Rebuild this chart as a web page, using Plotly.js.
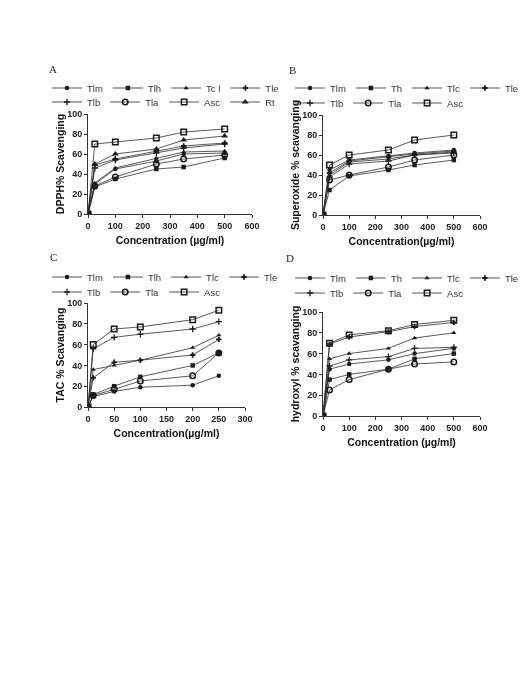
<!DOCTYPE html>
<html>
<head>
<meta charset="utf-8">
<script src="https://cdn.plot.ly/plotly-3.0.1.min.js"></script>
<style>
  html, body { margin: 0; padding: 0; background: #ffffff; }
  #chart { width: 529px; height: 685px; will-change: transform; }
</style>
</head>
<body>
<div id="chart"></div>
<script>
// ---- Panel A: DPPH radical scavenging ----
const concA = [0, 25, 100, 250, 350, 500];
const dpphTlm = [0, 30, 45, 53, 60, 61];
const dpphTlh = [0, 27, 35, 45, 47, 56];
const dpphTcl = [0, 31, 46, 56, 62, 63];
const dpphTle = [0, 49, 55, 63, 68, 71];
const dpphTlb = [0, 46, 54, 61, 66, 70];
const dpphTla = [0, 28, 37, 50, 55, 59];
const dpphAsc = [0, 70, 72, 76, 82, 85];
const dpphRt  = [0, 50, 60, 65, 74, 78];

// ---- Panel B: superoxide scavenging ----
const concB = [0, 25, 100, 250, 350, 500];
const supTlm = [0, 45, 55, 59, 62, 65];
const supTh  = [0, 25, 39, 45, 50, 55];
const supTlc = [0, 40, 53, 56, 60, 63];
const supTle = [0, 42, 54, 58, 61, 64];
const supTlb = [0, 38, 51, 54, 60, 62];
const supTla = [0, 35, 40, 48, 55, 60];
const supAsc = [0, 50, 60, 65, 75, 80];

// ---- Panel C: total antioxidant capacity ----
const concC = [0, 10, 50, 100, 200, 250];
const tacTlm = [0, 10, 15, 19, 21, 30];
const tacTlh = [0, 12, 20, 29, 40, 52];
const tacTlc = [0, 36, 40, 45, 57, 69];
const tacTle = [0, 28, 43, 45, 50, 65];
const tacTlb = [0, 56, 67, 70, 75, 82];
const tacTla = [0, 11, 17, 25, 30, 52];
const tacAsc = [0, 60, 75, 77, 84, 93];

// ---- Panel D: hydroxyl radical scavenging ----
const concD = [0, 25, 100, 250, 350, 500];
const hydTlm = [0, 45, 50, 54, 60, 65];
const hydTh  = [0, 35, 40, 45, 55, 60];
const hydTlc = [0, 55, 60, 65, 75, 80];
const hydTle = [0, 69, 76, 81, 86, 90];
const hydTlb = [0, 48, 54, 57, 65, 66];
const hydTla = [0, 25, 35, 45, 50, 52];
const hydAsc = [0, 70, 78, 82, 88, 92];

// marker look for each extract
const INK = '#1b1b1b';
const markerStyle = {
  Tlm: { symbol: 'circle', size: 4.5 },
  Tlh: { symbol: 'square', size: 4.5 },
  Th:  { symbol: 'square', size: 4.5 },
  Tcl: { symbol: 'triangle-up', size: 4.5 },
  Tlc: { symbol: 'triangle-up', size: 4.5 },
  Tle: { symbol: 'cross', size: 4.5 },
  Tlb: { symbol: 'cross-thin-open', size: 4.5, line: { width: 1.3, color: INK } },
  Tla: { symbol: 'circle-open', size: 5.5, line: { width: 1.5, color: INK } },
  Asc: { symbol: 'square-open', size: 5.5, line: { width: 1.5, color: INK } },
  Rt:  { symbol: 'triangle-up', size: 6 }
};

function series(x, y, key, label, xa, ya, legendId) {
  const m = Object.assign({ color: INK }, markerStyle[key]);
  return {
    type: 'scatter', mode: 'lines+markers',
    x: x, y: y, name: label,
    xaxis: xa, yaxis: ya, legend: legendId,
    line: { color: '#2e2e2e', width: 0.8 },
    marker: m, cliponaxis: true
  };
}

const traces = [
  // A
  series(concA, dpphTlm, 'Tlm', 'Tlm', 'x', 'y', 'legend'),
  series(concA, dpphTlh, 'Tlh', 'Tlh', 'x', 'y', 'legend'),
  series(concA, dpphTcl, 'Tcl', 'Tc l', 'x', 'y', 'legend'),
  series(concA, dpphTle, 'Tle', 'Tle', 'x', 'y', 'legend'),
  series(concA, dpphTlb, 'Tlb', 'Tlb', 'x', 'y', 'legend2'),
  series(concA, dpphTla, 'Tla', 'Tla', 'x', 'y', 'legend2'),
  series(concA, dpphAsc, 'Asc', 'Asc', 'x', 'y', 'legend2'),
  series(concA, dpphRt,  'Rt',  'Rt',  'x', 'y', 'legend2'),
  // B
  series(concB, supTlm, 'Tlm', 'Tlm', 'x2', 'y2', 'legend3'),
  series(concB, supTh,  'Th',  'Th',  'x2', 'y2', 'legend3'),
  series(concB, supTlc, 'Tlc', 'Tlc', 'x2', 'y2', 'legend3'),
  series(concB, supTle, 'Tle', 'Tle', 'x2', 'y2', 'legend3'),
  series(concB, supTlb, 'Tlb', 'Tlb', 'x2', 'y2', 'legend4'),
  series(concB, supTla, 'Tla', 'Tla', 'x2', 'y2', 'legend4'),
  series(concB, supAsc, 'Asc', 'Asc', 'x2', 'y2', 'legend4'),
  // C
  series(concC, tacTlm, 'Tlm', 'Tlm', 'x3', 'y3', 'legend5'),
  series(concC, tacTlh, 'Tlh', 'Tlh', 'x3', 'y3', 'legend5'),
  series(concC, tacTlc, 'Tlc', 'Tlc', 'x3', 'y3', 'legend5'),
  series(concC, tacTle, 'Tle', 'Tle', 'x3', 'y3', 'legend5'),
  series(concC, tacTlb, 'Tlb', 'Tlb', 'x3', 'y3', 'legend6'),
  series(concC, tacTla, 'Tla', 'Tla', 'x3', 'y3', 'legend6'),
  series(concC, tacAsc, 'Asc', 'Asc', 'x3', 'y3', 'legend6'),
  // D
  series(concD, hydTlm, 'Tlm', 'Tlm', 'x4', 'y4', 'legend7'),
  series(concD, hydTh,  'Th',  'Th',  'x4', 'y4', 'legend7'),
  series(concD, hydTlc, 'Tlc', 'Tlc', 'x4', 'y4', 'legend7'),
  series(concD, hydTle, 'Tle', 'Tle', 'x4', 'y4', 'legend7'),
  series(concD, hydTlb, 'Tlb', 'Tlb', 'x4', 'y4', 'legend8'),
  series(concD, hydTla, 'Tla', 'Tla', 'x4', 'y4', 'legend8'),
  series(concD, hydAsc, 'Asc', 'Asc', 'x4', 'y4', 'legend8')
];

const W = 529, H = 685;
const px = v => v / W;
const py = v => 1 - v / H;

const tickFont = { family: 'Arial, Liberation Sans, sans-serif', size: 9, color: '#222', weight: 'bold' };
const titleFont = { family: 'Arial, Liberation Sans, sans-serif', size: 10.5, color: '#111', weight: 'bold' };

function xAxis(left, right, maxV, step, title, anchor) {
  return {
    domain: [px(left), px(right)], anchor: anchor,
    range: [0, maxV], dtick: step, tick0: 0,
    showline: true, linecolor: '#333', linewidth: 1,
    ticks: 'outside', ticklen: 3, tickwidth: 1, tickcolor: '#333',
    showgrid: false, zeroline: false, tickfont: tickFont,
    title: { text: title, font: titleFont, standoff: 6 },
    fixedrange: true
  };
}
function yAxis(top, bottom, title, anchor) {
  return {
    domain: [py(bottom), py(top)], anchor: anchor,
    range: [0, 100], dtick: 20, tick0: 0,
    showline: true, linecolor: '#333', linewidth: 1,
    ticks: 'outside', ticklen: 3, tickwidth: 1, tickcolor: '#333',
    showgrid: false, zeroline: false, tickfont: tickFont,
    title: { text: title, font: titleFont, standoff: 0 },
    fixedrange: true
  };
}

const legendFont = { family: 'Arial, Liberation Sans, sans-serif', size: 9.5, color: '#333' };
function rowLegend(left, centreY) {
  return {
    orientation: 'h', x: px(left), xanchor: 'left',
    y: py(centreY), yanchor: 'middle',
    font: legendFont, bgcolor: 'rgba(0,0,0,0)',
    tracegroupgap: 0, itemwidth: 30, entrywidth: 0
  };
}

const serif = { family: 'Liberation Serif, Times New Roman, serif', size: 11, color: '#222' };
function panelLetter(text, x, y) {
  return { text: text, xref: 'paper', yref: 'paper', x: px(x), y: py(y),
           xanchor: 'center', yanchor: 'middle', showarrow: false, font: serif };
}

const layout = {
  width: W, height: H,
  margin: { l: 0, r: 0, t: 0, b: 0 },
  paper_bgcolor: '#ffffff', plot_bgcolor: '#ffffff',
  xaxis:  xAxis(88, 252, 600, 100, 'Concentration (\u00b5g/ml)', 'y'),
  yaxis:  yAxis(114, 214, 'DPPH% Scavenging', 'x'),
  xaxis2: xAxis(323, 480, 600, 100, 'Concentration(\u00b5g/ml)', 'y2'),
  yaxis2: yAxis(115, 215, 'Superoxide % scavanging', 'x2'),
  xaxis3: xAxis(88, 245, 300, 50, 'Concentration(\u00b5g/ml)', 'y3'),
  yaxis3: yAxis(303, 407, 'TAC % Scavanging', 'x3'),
  xaxis4: xAxis(323, 480, 600, 100, 'Concentration (\u00b5g/ml)', 'y4'),
  yaxis4: yAxis(312, 416, 'hydroxyl % scavanging', 'x4'),
  legend:  rowLegend(47, 88),
  legend2: rowLegend(47, 102),
  legend3: rowLegend(290, 88),
  legend4: rowLegend(290, 103),
  legend5: rowLegend(47, 277),
  legend6: rowLegend(47, 292),
  legend7: rowLegend(290, 278),
  legend8: rowLegend(290, 293),
  annotations: [
    panelLetter('A', 53, 69),
    panelLetter('B', 292, 70),
    panelLetter('C', 53, 257),
    panelLetter('D', 290, 258)
  ],
  showlegend: true
};

Plotly.newPlot('chart', traces, layout, { staticPlot: true, displayModeBar: false });
</script>
</body>
</html>
